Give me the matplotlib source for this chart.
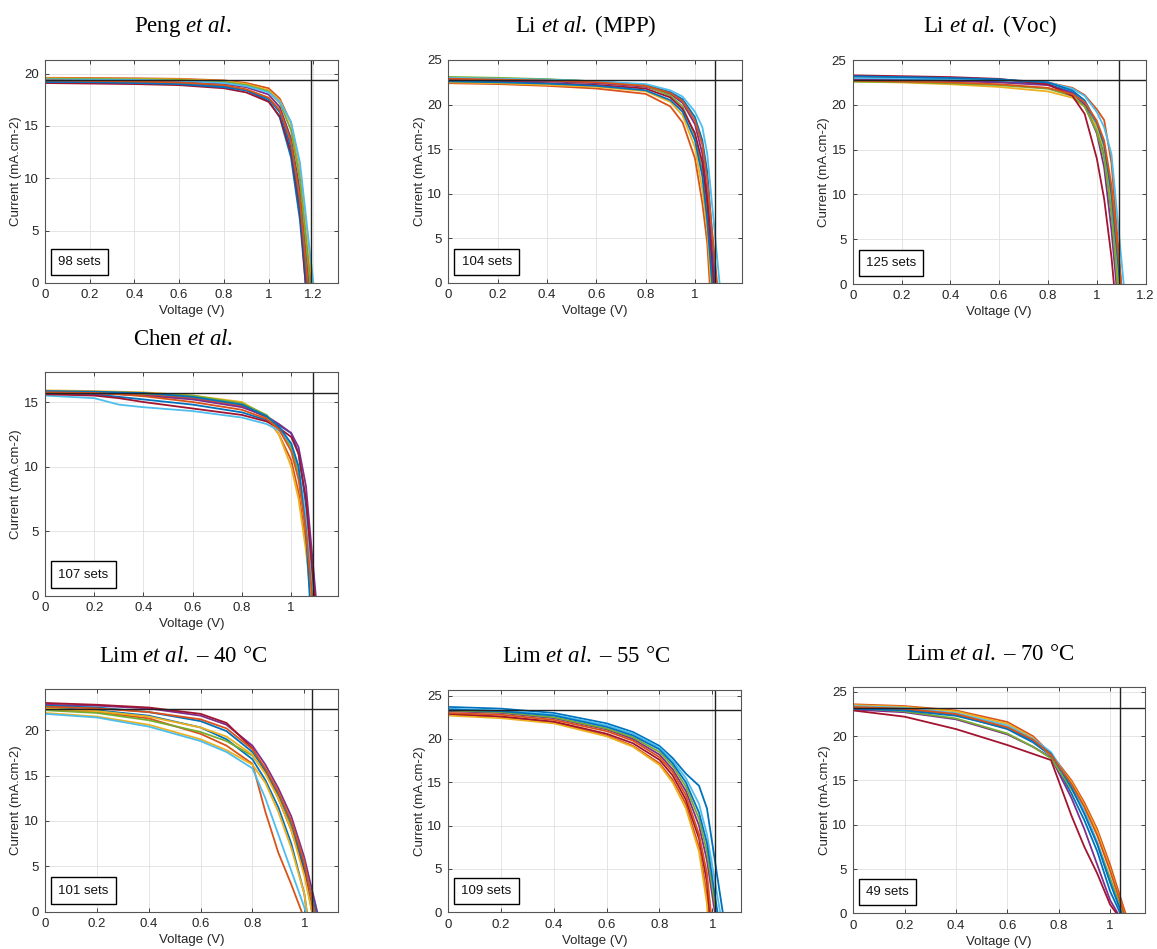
import numpy as np
import matplotlib.pyplot as plt
from matplotlib.ticker import FormatStrFormatter, MultipleLocator

plt.rcParams['font.family'] = ['Liberation Sans', 'DejaVu Sans']
plt.rcParams['mathtext.fontset'] = 'custom'
plt.rcParams['mathtext.rm'] = 'Liberation Serif'
plt.rcParams['mathtext.it'] = 'Liberation Serif:italic'

# MATLAB default line colours
colors = ['#0072BD', '#D95319', '#EDB120', '#7E2F8E', '#77AC30', '#4DBEEE', '#A2142F']

# ---- Peng et al. ----
peng_v = [0, 0.2, 0.4, 0.6, 0.8, 0.9, 1.0, 1.05, 1.1, 1.14]
peng_i = [
    [19.3, 19.25, 19.2, 19.1, 18.8, 18.4, 17.4, 15.8, 12.0, 6.0],
    [19.6, 19.58, 19.55, 19.5, 19.35, 19.1, 18.6, 17.6, 15.3, 10.8],
    [19.55, 19.52, 19.5, 19.45, 19.3, 19.0, 18.4, 17.4, 15.2, 11.0],
    [19.4, 19.38, 19.32, 19.25, 19.0, 18.7, 18.0, 16.8, 13.8, 8.8],
    [19.5, 19.48, 19.45, 19.4, 19.2, 18.9, 18.3, 17.2, 14.6, 9.8],
    [19.45, 19.42, 19.4, 19.3, 19.1, 18.8, 18.2, 17.3, 15.4, 11.5],
    [19.1, 19.05, 19.0, 18.9, 18.6, 18.2, 17.3, 15.9, 12.5, 7.0],
    [19.2, 19.18, 19.1, 19.0, 18.7, 18.4, 17.6, 16.3, 13.0, 7.5],
    [19.35, 19.3, 19.25, 19.15, 18.9, 18.5, 17.7, 16.5, 13.5, 8.0],
]
peng_voc = [1.165, 1.19, 1.195, 1.18, 1.185, 1.2, 1.165, 1.17, 1.175]
peng_cross = [1.19, 19.43]

# ---- Li et al. (MPP) ----
lim_v = [0, 0.2, 0.4, 0.6, 0.8, 0.9, 0.95, 1.0, 1.03, 1.05]
lim_i = [
    [23.0, 22.9, 22.8, 22.6, 22.2, 21.4, 20.6, 18.6, 16.0, 12.5],
    [22.4, 22.3, 22.1, 21.8, 21.2, 19.8, 18.0, 14.0, 9.0, 4.5],
    [22.5, 22.4, 22.2, 22.0, 21.5, 20.3, 18.8, 15.2, 10.5, 6.0],
    [22.8, 22.7, 22.6, 22.4, 22.0, 21.2, 20.2, 17.8, 14.5, 10.0],
    [23.1, 23.0, 22.85, 22.6, 22.1, 21.0, 19.8, 16.5, 12.5, 8.0],
    [23.0, 22.9, 22.8, 22.6, 22.3, 21.6, 20.9, 19.2, 17.5, 14.5],
    [22.7, 22.6, 22.4, 22.2, 21.8, 20.8, 19.5, 16.8, 13.5, 9.0],
    [22.6, 22.5, 22.35, 22.1, 21.6, 20.5, 19.2, 16.0, 12.0, 7.0],
    [22.9, 22.8, 22.7, 22.5, 22.1, 21.3, 20.4, 18.2, 15.5, 11.5],
]
lim_voc = [1.085, 1.06, 1.065, 1.08, 1.07, 1.10, 1.075, 1.07, 1.09]
lim_cross = [1.081, 22.72]

# ---- Li et al. (Voc) ----
liv_v = [0, 0.2, 0.4, 0.6, 0.8, 0.9, 0.95, 1.0, 1.03, 1.06]
liv_i = [
    [22.9, 22.85, 22.8, 22.6, 22.3, 21.4, 20.2, 17.5, 14.5, 8.0],
    [23.1, 23.05, 22.95, 22.8, 22.5, 21.9, 21.1, 19.5, 18.3, 13.5],
    [22.6, 22.5, 22.3, 22.0, 21.5, 20.8, 19.8, 17.5, 15.0, 9.0],
    [22.8, 22.75, 22.65, 22.5, 22.2, 21.3, 20.0, 16.8, 13.0, 6.0],
    [22.6, 22.55, 22.4, 22.2, 21.8, 21.0, 19.8, 17.0, 14.0, 8.0],
    [23.0, 22.95, 22.9, 22.75, 22.5, 21.8, 21.0, 19.2, 17.5, 14.5],
    [23.3, 23.2, 23.1, 22.9, 22.3, 21.0, 19.0, 14.0, 9.5, 3.0],
    [23.2, 23.1, 23.0, 22.85, 22.5, 21.6, 20.5, 18.0, 15.5, 10.0],
    [22.7, 22.6, 22.5, 22.3, 21.9, 21.2, 20.3, 18.2, 16.0, 11.0],
]
liv_voc = [1.09, 1.10, 1.09, 1.08, 1.085, 1.11, 1.07, 1.095, 1.10]
liv_cross = [1.092, 22.8]

# ---- Chen et al. ----
chen_v = [0, 0.2, 0.3, 0.4, 0.6, 0.8, 0.9, 0.95, 1.0, 1.03, 1.06]
chen_i = [
    [15.7, 15.6, 15.4, 15.2, 14.8, 14.2, 13.6, 13.2, 12.6, 11.0, 7.0],
    [15.8, 15.75, 15.7, 15.6, 15.3, 14.7, 13.8, 12.5, 10.5, 8.0, 4.0],
    [15.9, 15.85, 15.8, 15.75, 15.5, 15.0, 13.9, 12.5, 10.0, 7.5, 3.5],
    [15.7, 15.65, 15.6, 15.5, 15.2, 14.6, 13.9, 13.3, 12.6, 11.5, 8.5],
    [15.8, 15.75, 15.7, 15.65, 15.5, 14.9, 14.0, 13.0, 11.5, 9.5, 5.5],
    [15.5, 15.3, 14.8, 14.6, 14.3, 13.8, 13.3, 12.8, 11.8, 10.0, 6.0],
    [15.6, 15.5, 15.3, 15.0, 14.5, 14.0, 13.5, 13.0, 12.3, 11.0, 7.5],
    [15.85, 15.8, 15.75, 15.7, 15.4, 14.8, 13.9, 13.1, 11.8, 10.0, 5.0],
    [15.75, 15.7, 15.6, 15.45, 15.0, 14.4, 13.7, 12.9, 11.2, 9.0, 5.0],
]
chen_voc = [1.09, 1.08, 1.08, 1.10, 1.09, 1.09, 1.095, 1.075, 1.085]
chen_cross = [1.088, 15.7]

# ---- Lim et al. 40 °C ----
l40_v = [0, 0.2, 0.4, 0.6, 0.7, 0.8, 0.85, 0.9, 0.95, 1.0]
l40_i = [
    [22.5, 22.2, 21.6, 20.3, 19.0, 16.8, 14.5, 11.5, 7.5, 2.0],
    [22.3, 22.0, 21.3, 19.6, 18.3, 16.3, 11.0, 6.5, 3.0, np.nan],
    [21.9, 21.5, 20.6, 19.0, 17.8, 16.2, 14.2, 11.0, 7.0, 2.0],
    [22.8, 22.7, 22.4, 21.6, 20.6, 18.3, 16.2, 13.6, 10.5, 6.0],
    [22.2, 21.9, 21.1, 19.8, 18.8, 17.2, 15.3, 12.8, 9.5, 4.5],
    [21.8, 21.4, 20.4, 18.8, 17.6, 15.8, 12.5, 8.5, 4.5, 0.5],
    [23.0, 22.8, 22.5, 21.8, 20.8, 18.0, 15.5, 12.5, 9.0, 4.5],
    [22.7, 22.5, 22.0, 21.0, 19.9, 17.6, 15.6, 13.0, 9.8, 5.0],
    [22.6, 22.4, 22.0, 21.2, 20.2, 17.9, 15.8, 13.2, 10.0, 5.5],
    [22.4, 22.1, 21.5, 20.3, 19.3, 17.3, 15.2, 12.5, 9.0, 4.0],
]
l40_voc = [1.01, 0.99, 1.01, 1.05, 1.035, 1.005, 1.03, 1.045, 1.04, 1.03]
l40_cross = [1.031, 22.3]

# ---- Lim et al. 55 °C ----
l55_v = [0, 0.2, 0.4, 0.6, 0.7, 0.8, 0.85, 0.9, 0.95, 0.98]
l55_i = [
    [23.7, 23.5, 23.0, 21.8, 20.8, 19.2, 17.8, 16.0, 14.6, 12.0],
    [22.8, 22.5, 21.9, 20.4, 19.2, 17.2, 15.3, 12.5, 7.5, 2.0],
    [22.7, 22.4, 21.8, 20.3, 19.1, 17.0, 15.0, 12.0, 7.0, 1.0],
    [23.2, 23.0, 22.4, 21.1, 20.0, 18.2, 16.5, 14.0, 10.0, 6.0],
    [23.3, 23.1, 22.5, 21.2, 20.2, 18.5, 16.9, 14.5, 10.8, 7.0],
    [23.5, 23.3, 22.8, 21.6, 20.6, 19.0, 17.5, 15.5, 12.5, 9.0],
    [22.9, 22.6, 22.0, 20.6, 19.5, 17.6, 15.8, 13.0, 8.5, 3.5],
    [23.4, 23.2, 22.7, 21.4, 20.4, 18.8, 17.2, 15.0, 11.5, 8.0],
    [23.0, 22.8, 22.2, 20.9, 19.8, 17.9, 16.2, 13.5, 9.0, 4.5],
]
l55_voc = [1.04, 0.985, 0.982, 1.01, 1.015, 1.03, 0.99, 1.02, 0.995]
l55_cross = [1.010, 23.4]

# ---- Lim et al. 70 °C ----
l70_v = [0, 0.2, 0.4, 0.6, 0.7, 0.77, 0.85, 0.9, 0.95, 1.0]
l70_i = [
    [23.3, 23.0, 22.4, 20.8, 19.3, 17.8, 13.5, 10.5, 7.0, 2.5],
    [23.6, 23.4, 22.9, 21.6, 20.0, 18.0, 15.0, 12.5, 9.5, 5.5],
    [23.5, 23.3, 22.8, 21.4, 19.8, 17.8, 14.8, 12.2, 9.2, 5.0],
    [23.0, 22.7, 21.9, 20.2, 18.8, 17.6, 13.0, 9.5, 5.5, 1.5],
    [23.2, 22.8, 22.0, 20.3, 18.8, 17.5, 14.0, 11.5, 8.0, 4.0],
    [23.4, 23.2, 22.6, 21.2, 19.7, 18.2, 14.5, 11.5, 8.0, 3.5],
    [22.9, 22.2, 20.8, 19.0, 18.0, 17.3, 11.0, 7.5, 4.5, 1.0],
    [23.1, 22.9, 22.3, 20.9, 19.5, 18.0, 14.2, 11.2, 7.8, 3.5],
    [23.3, 23.1, 22.5, 21.0, 19.6, 17.9, 14.6, 12.0, 8.8, 4.8],
]
l70_voc = [1.04, 1.06, 1.055, 1.03, 1.05, 1.045, 1.025, 1.045, 1.055]
l70_cross = [1.037, 23.2]

titles = [r'Peng $\mathit{et\ al.}$', r'Li $\mathit{et\ al.}\;$(MPP)', r'Li $\mathit{et\ al.}\;$(Voc)',
          r'Chen $\mathit{et\ al.}$', r'Lim $\mathit{et\ al.}\;$– 40 °C',
          r'Lim $\mathit{et\ al.}\;$– 55 °C', r'Lim $\mathit{et\ al.}\;$– 70 °C']
set_counts = [98, 104, 125, 107, 101, 109, 49]

panels = [
    (peng_v, peng_i, peng_voc, peng_cross),
    (lim_v, lim_i, lim_voc, lim_cross),
    (liv_v, liv_i, liv_voc, liv_cross),
    (chen_v, chen_i, chen_voc, chen_cross),
    (l40_v, l40_i, l40_voc, l40_cross),
    (l55_v, l55_i, l55_voc, l55_cross),
    (l70_v, l70_i, l70_voc, l70_cross),
]

# axes rectangles (figure fraction) and limits
rects = [
    [0.0389, 0.7018, 0.2532, 0.2350],
    [0.3875, 0.7018, 0.2536, 0.2350],
    [0.7370, 0.7007, 0.2532, 0.2360],
    [0.0389, 0.3720, 0.2532, 0.2357],
    [0.0389, 0.0393, 0.2532, 0.2343],
    [0.3875, 0.0387, 0.2527, 0.2342],
    [0.7375, 0.0376, 0.2521, 0.2380],
]
xlims = [1.31, 1.19, 1.2, 1.19, 1.13, 1.108, 1.136]
ylims = [21.3, 25, 25, 17.3, 24.5, 25.65, 25.5]

fig = plt.figure(figsize=(11.57, 9.49), dpi=100)

for k, (v, cur, voc, cross) in enumerate(panels):
    ax = fig.add_axes(rects[k])
    for j, (row, vo) in enumerate(zip(cur, voc)):
        vv = np.array(v, dtype=float)
        ii = np.array(row, dtype=float)
        keep = (vv < vo) & ~np.isnan(ii)
        vv = np.append(vv[keep], vo)
        ii = np.append(ii[keep], 0.0)
        ax.plot(vv, ii, color=colors[j % len(colors)], lw=1.3)
    ax.axvline(cross[0], color='#222222', lw=1.0)
    ax.axhline(cross[1], color='#222222', lw=1.0)

    ax.set_xlim(0, xlims[k])
    ax.set_ylim(0, ylims[k])
    ax.xaxis.set_major_locator(MultipleLocator(0.2))
    ax.yaxis.set_major_locator(MultipleLocator(5))
    ax.xaxis.set_major_formatter(FormatStrFormatter('%g'))
    ax.grid(True, color='#e0e0e0', lw=0.6)
    ax.set_axisbelow(True)
    ax.tick_params(direction='in', length=3, width=0.6, top=True, right=True,
                   labelsize=9.5, colors='#262626', pad=4.5)
    for s in ax.spines.values():
        s.set_color('#555555')
        s.set_linewidth(0.8)
    ax.set_xlabel('Voltage (V)', fontsize=9.5, color='#262626', labelpad=3)
    ax.set_ylabel('Current (mA.cm-2)', fontsize=9.5, color='#262626', labelpad=1)
    ax.set_title(titles[k], fontsize=16.5, family='Liberation Serif', pad=20, x=0.47)
    ax.text(0.045, 0.095, f'{set_counts[k]} sets', transform=ax.transAxes,
            fontsize=9.5, va='center', ha='left', color='#111111',
            bbox=dict(boxstyle='square,pad=0.55', fc='white', ec='black', lw=1.0))

fig.savefig('out.png', dpi=100)
